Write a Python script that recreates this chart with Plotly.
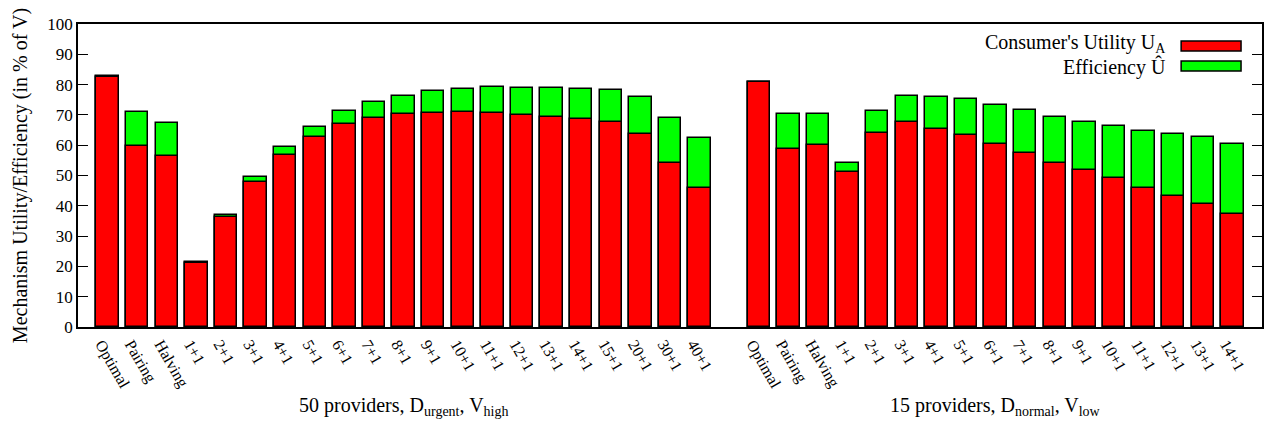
import plotly.graph_objects as go

# Mechanism labels for the two scenarios
labels_urgent = ["Optimal", "Pairing", "Halving", "1+1", "2+1", "3+1", "4+1", "5+1",
                 "6+1", "7+1", "8+1", "9+1", "10+1", "11+1", "12+1", "13+1",
                 "14+1", "15+1", "20+1", "30+1", "40+1"]
labels_normal = ["Optimal", "Pairing", "Halving", "1+1", "2+1", "3+1", "4+1", "5+1",
                 "6+1", "7+1", "8+1", "9+1", "10+1", "11+1", "12+1", "13+1", "14+1"]

# Consumer's utility U_A (in % of V)
utility_urgent = [82.6, 59.7, 56.4, 21.2, 36.2, 48.0, 56.9, 62.8, 66.9, 68.9, 70.2,
                  70.7, 71.0, 70.7, 70.0, 69.4, 68.8, 67.7, 63.6, 54.1, 45.9]
utility_normal = [80.9, 58.9, 60.0, 51.2, 64.1, 67.5, 65.5, 63.3, 60.4, 57.4, 54.2,
                  51.7, 49.1, 46.0, 43.1, 40.5, 37.4]

# Efficiency (in % of V)
efficiency_urgent = [82.7, 70.9, 67.2, 21.5, 37.0, 49.4, 59.3, 66.1, 71.3, 74.2, 76.3,
                     77.9, 78.7, 79.1, 79.0, 78.9, 78.7, 78.2, 75.9, 69.1, 62.4]
efficiency_normal = [81.0, 70.4, 70.4, 54.0, 71.2, 76.2, 76.0, 75.4, 73.2, 71.6, 69.4,
                     67.5, 66.3, 64.6, 63.7, 62.7, 60.5]

group_titles = ["50 providers, D<sub>urgent</sub>, V<sub>high</sub>",
                "15 providers, D<sub>normal</sub>, V<sub>low</sub>"]
y_ticks = list(range(0, 101, 10))

FONT = "Liberation Serif"
RED = "#ff0000"
GREEN = "#00ff00"

# Slot positions: one empty slot separates the two histograms
x_urgent = list(range(len(labels_urgent)))
start_normal = len(labels_urgent) + 1
x_normal = list(range(start_normal, start_normal + len(labels_normal)))

xs = x_urgent + x_normal
labels = labels_urgent + labels_normal
utility = utility_urgent + utility_normal
efficiency = efficiency_urgent + efficiency_normal

bar_width = 0.76
outline = dict(color="black", width=1.5)

fig = go.Figure()
fig.add_trace(go.Bar(x=xs, y=efficiency, width=bar_width,
                     marker=dict(color=GREEN, line=outline),
                     name="Efficiency Û", showlegend=False, hoverinfo="skip"))
fig.add_trace(go.Bar(x=xs, y=utility, width=bar_width,
                     marker=dict(color=RED, line=outline),
                     name="Consumer's Utility U<sub>A</sub>", showlegend=False,
                     hoverinfo="skip"))

# Group captions under the tick labels
centers = [(x_urgent[0] + x_urgent[-1]) / 2, (x_normal[0] + x_normal[-1]) / 2]
annotations = []
for cx, title in zip(centers, group_titles):
    annotations.append(dict(x=cx, xref="x", y=-0.215, yref="paper", yanchor="top",
                            text=title, showarrow=False,
                            font=dict(family=FONT, size=20, color="black")))

# Key in the upper right: right-aligned text followed by a colour sample
key = [("Consumer's Utility U<sub>A</sub>", RED, 0.927, 0.936),
       ("Efficiency Û", GREEN, 0.861, 0.857)]
shapes = []
for text, color, yc, ytext in key:
    annotations.append(dict(x=0.921, xref="paper", y=ytext, yref="paper",
                            xanchor="right", yanchor="middle", text=text,
                            showarrow=False,
                            font=dict(family=FONT, size=20, color="black")))
    shapes.append(dict(type="rect", xref="paper", yref="paper",
                       x0=0.9317, x1=0.9823, y0=yc - 0.0165, y1=yc + 0.0165,
                       fillcolor=color, line=dict(color="black", width=1.5)))

fig.update_layout(
    width=1265, height=422,
    margin=dict(l=78, r=1, t=24, b=95),
    paper_bgcolor="white", plot_bgcolor="white",
    barmode="overlay",
    bargap=0,
    font=dict(family=FONT, size=16, color="black"),
    annotations=annotations,
    shapes=shapes,
    xaxis=dict(range=[-1, start_normal + len(labels_normal)],
               tickvals=xs, ticktext=labels, tickangle=60,
               ticks="", showgrid=False, zeroline=False,
               showline=True, linecolor="black", linewidth=1.5, mirror=True,
               ticklabelshift=-6,
               tickfont=dict(family=FONT, size=16)),
    yaxis=dict(range=[0, 100], tickvals=y_ticks,
               ticks="inside", ticklen=10, tickwidth=1, tickcolor="black",
               showgrid=False, zeroline=False,
               showline=True, linecolor="black", linewidth=1.5, mirror="ticks",
               tickfont=dict(family=FONT, size=17),
               title=dict(text="Mechanism Utility/Efficiency (in % of V)",
                          font=dict(family=FONT, size=20), standoff=14)),
)

fig.write_html("out.html")
